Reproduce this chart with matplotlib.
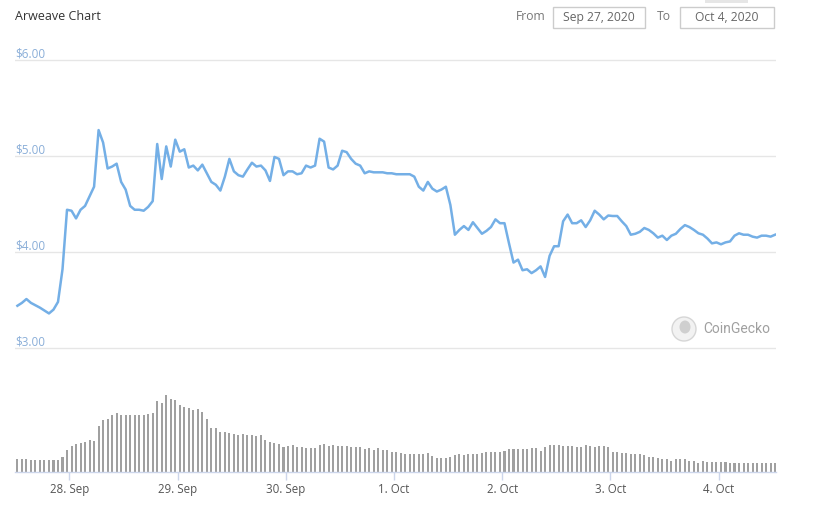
import matplotlib
matplotlib.use('Agg')
import matplotlib.pyplot as plt
import matplotlib.dates as mdates
from matplotlib.patches import Rectangle, Ellipse
import numpy as np
import pandas as pd

plt.rcParams['font.family'] = ['Open Sans', 'DejaVu Sans']

# data (hourly)
start_time = '2020-09-27 12:30'
prices = [3.44, 3.47, 3.51, 3.47, 3.445, 3.42, 3.39, 3.36, 3.40, 3.48,
          3.82, 4.44, 4.43, 4.35, 4.44, 4.48, 4.58, 4.68, 5.27, 5.14,
          4.87, 4.89, 4.92, 4.73, 4.65, 4.48, 4.44, 4.44, 4.43, 4.47,
          4.53, 5.125, 4.76, 5.10, 4.89, 5.17, 5.045, 5.07, 4.88, 4.90,
          4.85, 4.91, 4.82, 4.73, 4.70, 4.64, 4.785, 4.97, 4.84, 4.80,
          4.785, 4.86, 4.93, 4.89, 4.90, 4.85, 4.74, 4.99, 4.97, 4.80,
          4.84, 4.84, 4.81, 4.82, 4.90, 4.88, 4.90, 5.18, 5.15, 4.88,
          4.86, 4.90, 5.055, 5.04, 4.97, 4.92, 4.90, 4.82, 4.84, 4.83,
          4.83, 4.83, 4.82, 4.82, 4.81, 4.81, 4.81, 4.81, 4.785, 4.68,
          4.64, 4.73, 4.66, 4.63, 4.65, 4.68, 4.49, 4.18, 4.23, 4.27,
          4.23, 4.31, 4.25, 4.19, 4.22, 4.26, 4.34, 4.30, 4.30, 4.09,
          3.89, 3.92, 3.81, 3.82, 3.78, 3.81, 3.85, 3.74, 3.96, 4.06,
          4.06, 4.32, 4.39, 4.30, 4.30, 4.33, 4.26, 4.33, 4.43, 4.39,
          4.34, 4.38, 4.375, 4.375, 4.32, 4.27, 4.18, 4.19, 4.21, 4.25,
          4.23, 4.195, 4.15, 4.17, 4.125, 4.17, 4.19, 4.24, 4.28, 4.26,
          4.23, 4.195, 4.18, 4.14, 4.09, 4.10, 4.08, 4.10, 4.11, 4.17,
          4.195, 4.18, 4.18, 4.16, 4.15, 4.17, 4.17, 4.16, 4.18]

# relative volume (bar heights)
volumes = [13.3, 13.3, 13.3, 12, 12, 12, 12, 12, 12, 12,
           15.3, 22, 26, 28, 28.7, 30, 32, 30.7, 46, 52,
           53.3, 57.3, 59.3, 57.3, 57.3, 56.7, 57.3, 57.3, 57.3, 58,
           59.3, 71.3, 68.7, 76.7, 73.3, 72, 66.7, 65.3, 64, 62,
           63.3, 60, 52.7, 44.3, 43.7, 39.7, 39.7, 38.7, 38, 36.7,
           37.7, 36.7, 36.7, 36.3, 37, 31.7, 30, 28.7, 28, 25.3,
           26, 26.7, 24.7, 24.7, 24.3, 24, 24, 26.7, 27.7, 26,
           26.7, 26, 26, 26, 25.3, 24.7, 24.7, 22.7, 23.7, 22.3,
           23.7, 22, 22, 20.3, 20.3, 19.3, 18, 18, 18, 18,
           18, 18.7, 16, 14.3, 14, 13.7, 14.7, 17, 18, 17,
           18, 18, 18, 18.7, 19.7, 19.7, 19.7, 19.7, 21, 22.7,
           22.7, 22.7, 22.7, 23.3, 24, 23.7, 21.3, 24.7, 26.7, 27,
           26.7, 26, 26, 25.7, 25.3, 24.7, 26.7, 26, 25.3, 25.7,
           25.7, 24.7, 20, 20, 19, 18.7, 18, 18, 18, 17,
           14.7, 14.7, 13.7, 13.3, 13, 11, 13, 12.7, 12.7, 11.3,
           11, 8.7, 10.7, 10, 9.7, 9.7, 9.7, 9.7, 8.7, 8.7,
           8.7, 8.7, 8.7, 8.7, 8.7, 8.7, 8.7, 8.7, 8.7]

price_ticks = [3, 4, 5, 6]
price_labels = ['$3.00', '$4.00', '$5.00', '$6.00']
date_ticks = ['2020-09-28', '2020-09-29', '2020-09-30', '2020-10-01',
              '2020-10-02', '2020-10-03', '2020-10-04']
date_labels = ['28. Sep', '29. Sep', '30. Sep', '1. Oct', '2. Oct', '3. Oct', '4. Oct']

times = pd.date_range(start_time, periods=len(prices), freq='h')

W, H = 825, 511
fig = plt.figure(figsize=(W / 100, H / 100), dpi=100)
fig.patch.set_facecolor('white')


def fx(px):
    return px / W


def fy(py):
    return 1 - py / H


xmin = mdates.date2num(pd.Timestamp('2020-09-27 11:58'))
xmax = mdates.date2num(pd.Timestamp('2020-10-04 12:42'))

# price panel
ax = fig.add_axes([fx(15), fy(352.8), fx(776) - fx(15), fy(55.2) - fy(352.8)])
ax.set_xlim(xmin, xmax)
ax.set_ylim(2.95, 6.05)
for v in price_ticks:
    ax.axhline(v, color='#e6e6e6', lw=1, zorder=1)
ax.plot(mdates.date2num(times), prices, color='#74afe6', lw=1.8, zorder=3,
        solid_joinstyle='round')
for v, lab in zip(price_ticks, price_labels):
    ax.text(0.0, v + 6 / 96, lab, transform=ax.get_yaxis_transform(),
            ha='left', va='center', fontsize=8.5, color='#8aaed8')
ax.set_xticks([])
ax.set_yticks([])
for s in ax.spines.values():
    s.set_visible(False)
ax.patch.set_alpha(0)

# volume panel
axv = fig.add_axes([fx(15), fy(472), fx(776) - fx(15), fy(372) - fy(472)])
axv.set_xlim(xmin, xmax)
axv.set_ylim(0, 100)
axv.bar(mdates.date2num(times), volumes, width=0.45 / 24, color='#a0a0a0',
        linewidth=0, zorder=2)
for s in ['top', 'left', 'right']:
    axv.spines[s].set_visible(False)
axv.spines['bottom'].set_color('#ccd6eb')
axv.spines['bottom'].set_linewidth(1)
axv.set_yticks([])
axv.set_xticks(mdates.date2num(pd.to_datetime(date_ticks)))
axv.set_xticklabels(date_labels)
axv.tick_params(axis='x', length=6, width=1, color='#ccd6eb', pad=2,
                labelsize=8.3, labelcolor='#555555')
axv.patch.set_alpha(0)

# header
fig.text(fx(15), fy(17), 'Arweave Chart', fontsize=9, color='#333333',
         ha='left', va='center')
fig.text(fx(546), fy(17), 'From', fontsize=8.7, color='#777777',
         ha='right', va='center')
fig.text(fx(671), fy(17), 'To', fontsize=8.7, color='#777777',
         ha='right', va='center')
for (x0, x1, lab) in [(553, 645, 'Sep 27, 2020'), (680, 774, 'Oct 4, 2020')]:
    fig.add_artist(Rectangle((fx(x0), fy(28)), fx(x1) - fx(x0), fy(7) - fy(28),
                             transform=fig.transFigure, facecolor='white',
                             edgecolor='#cccccc', lw=1))
    fig.text(fx((x0 + x1) / 2), fy(17.5), lab, fontsize=8.7, color='#666666',
             ha='center', va='center')
fig.add_artist(Rectangle((fx(705), fy(3)), fx(748) - fx(705), fy(0) - fy(3),
                         transform=fig.transFigure, facecolor='#e6e6e6',
                         edgecolor='none'))

# CoinGecko watermark
fig.add_artist(Ellipse((fx(684), fy(329)), 24 / W, 24 / H, transform=fig.transFigure,
                       facecolor='#f2f2f2', edgecolor='#d6d6d6', lw=1))
fig.add_artist(Ellipse((fx(685), fy(327)), 11 / W, 13 / H,
                       transform=fig.transFigure, facecolor='#cfcfcf',
                       edgecolor='none'))
fig.text(fx(703), fy(329), 'CoinGecko', fontsize=10, color='#a0a0a0',
         family=['Roboto', 'DejaVu Sans'], ha='left', va='center')

fig.savefig('out.png', dpi=100)
